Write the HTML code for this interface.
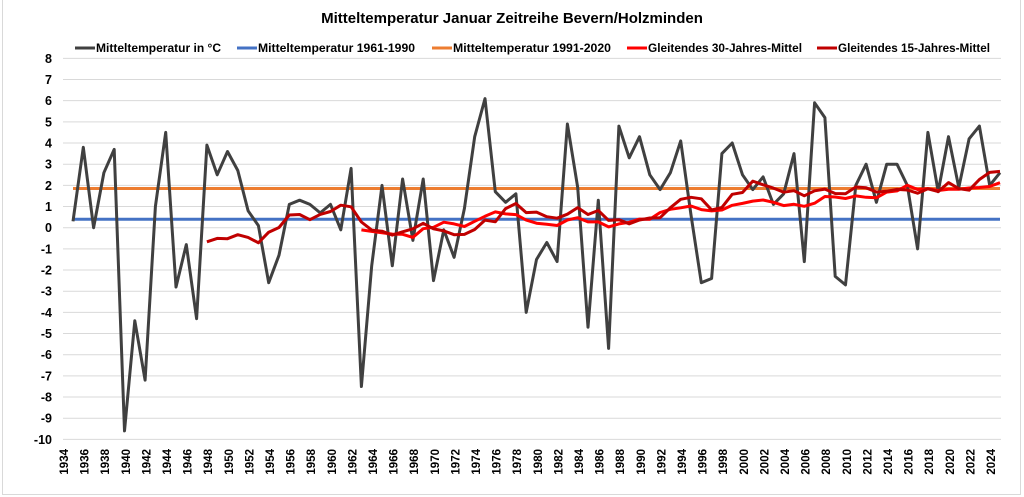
<!DOCTYPE html>
<html><head><meta charset="utf-8"><style>
body{margin:0;background:#fff;}
svg{display:block;font-family:"Liberation Sans",Arial,sans-serif;}
</style></head><body>
<svg id="s" width="1024" height="497" xmlns="http://www.w3.org/2000/svg">
<rect x="0" y="0" width="1024" height="497" fill="#fff"/>
<rect x="2.5" y="-2" width="1018" height="496.5" fill="none" stroke="#d9d9d9"/>
<text x="512" y="23" text-anchor="middle" font-weight="bold" font-size="15">Mitteltemperatur Januar Zeitreihe Bevern/Holzminden</text>
<g font-size="12" font-weight="bold" fill="#000">
<line x1="75" y1="48" x2="95" y2="48" stroke="#404040" stroke-width="3"/><text x="96" y="52" textLength="125" lengthAdjust="spacingAndGlyphs">Mitteltemperatur in °C</text>
<line x1="237" y1="48" x2="257" y2="48" stroke="#4472C4" stroke-width="3"/><text x="258" y="52" textLength="157" lengthAdjust="spacingAndGlyphs">Mitteltemperatur 1961-1990</text>
<line x1="432" y1="48" x2="452" y2="48" stroke="#ED7D31" stroke-width="3"/><text x="453" y="52" textLength="158" lengthAdjust="spacingAndGlyphs">Mitteltemperatur 1991-2020</text>
<line x1="627" y1="48" x2="647" y2="48" stroke="#FF0000" stroke-width="3"/><text x="648" y="52" textLength="154" lengthAdjust="spacingAndGlyphs">Gleitendes 30-Jahres-Mittel</text>
<line x1="817" y1="48" x2="837" y2="48" stroke="#C00000" stroke-width="3"/><text x="838" y="52" textLength="152" lengthAdjust="spacingAndGlyphs">Gleitendes 15-Jahres-Mittel</text>
</g>
<g id="grid"></g><g id="lab"></g><g id="ser"></g>
</svg>
<script>
var NS="http://www.w3.org/2000/svg";
function el(p,t,a,txt){var e=document.createElementNS(NS,t);for(var k in a)e.setAttribute(k,a[k]);if(txt!=null)e.textContent=txt;document.getElementById(p).appendChild(e);return e;}
var y0=227.7,sc=21.17;function Y(v){return y0-v*sc;}
function X(i){return 73+i*10.3;}
for(var v=-10;v<=8;v++){el("grid","line",{x1:63,x2:1001,y1:Y(v),y2:Y(v),stroke:"#d9d9d9","stroke-width":1});
el("lab","text",{x:52,y:Y(v)+4.5,"text-anchor":"end","font-size":"12.5","font-weight":"bold"},String(v));}
for(var k=0;k<=45;k++){var x=68+k*20.6;el("lab","text",{x:x,y:449,"text-anchor":"end","font-size":"11.5","font-weight":"bold",transform:"rotate(-90 "+x+" 449)"},String(1934+2*k));}
var d=[0.3,3.8,0,2.6,3.7,-9.6,-4.4,-7.2,1.0,4.5,-2.8,-0.8,-4.3,3.9,2.5,3.6,2.7,0.8,0.1,-2.6,-1.3,1.1,1.3,1.1,0.7,1.1,-0.1,2.8,-7.5,-1.8,2.0,-1.8,2.3,-0.6,2.3,-2.5,-0.1,-1.4,0.9,4.3,6.1,1.7,1.2,1.6,-4.0,-1.5,-0.7,-1.6,4.9,1.9,-4.7,1.3,-5.7,4.8,3.3,4.3,2.5,1.8,2.6,4.1,0.6,-2.6,-2.4,3.5,4.0,2.5,1.8,2.4,1.1,1.6,3.5,-1.6,5.9,5.2,-2.3,-2.7,2.0,3.0,1.2,3.0,3.0,2.0,-1.0,4.5,1.7,4.3,1.9,4.2,4.8,2.0,2.6];
el("ser","line",{x1:X(0),x2:X(90),y1:Y(0.4),y2:Y(0.4),stroke:"#4472C4","stroke-width":3});
el("ser","line",{x1:X(0),x2:X(90),y1:Y(1.85),y2:Y(1.85),stroke:"#ED7D31","stroke-width":3});
function pts(a,s){var p=[];for(var i=s;i<a.length;i++)p.push(X(i).toFixed(1)+","+Y(a[i]).toFixed(1));return p.join(" ");}
el("ser","polyline",{points:pts(d,0),fill:"none",stroke:"#404040","stroke-width":3,"stroke-linejoin":"round"});
function ma(w){var r=[];for(var i=0;i<d.length;i++){if(i<w-1){r.push(0);continue;}var s=0;for(var j=i-w+1;j<=i;j++)s+=d[j];r.push(s/w);}return r;}
el("ser","polyline",{points:pts(ma(29),28),fill:"none",stroke:"#FF0000","stroke-width":3,"stroke-linejoin":"round"});
el("ser","polyline",{points:pts(ma(14),13),fill:"none",stroke:"#C00000","stroke-width":3,"stroke-linejoin":"round"});
</script>
</body></html>
